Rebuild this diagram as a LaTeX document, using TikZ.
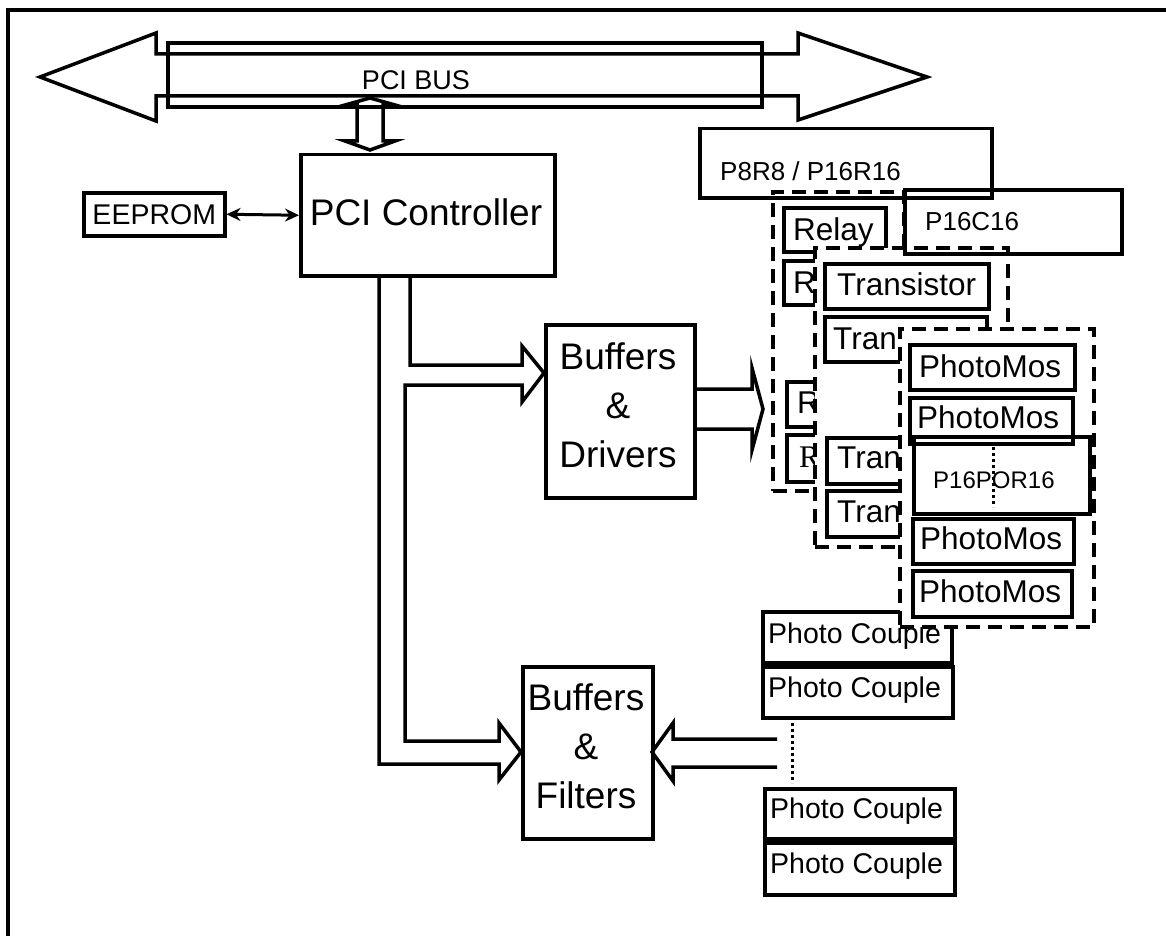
\documentclass[tikz,border=0pt]{standalone}
\usepackage{fontspec}
\setmainfont{Liberation Sans}
\newfontfamily\serifR{Liberation Serif}
\usetikzlibrary{arrows.meta}
\tikzset{
  ln/.style={line width=3.5pt, line join=miter},
  sbox/.style={draw, line width=3.5pt, fill=white, anchor=north west, inner sep=0pt},
  obox/.style={draw, line width=3.5pt, anchor=north west, inner sep=0pt},
  dbox/.style={draw, line width=3.5pt, fill=white, dash pattern=on 14pt off 8pt, anchor=north west, inner sep=0pt},
  txt/.style={inner sep=0pt, anchor=base west},
  big/.style={inner sep=0pt, font=\fontsize{37}{49}\selectfont, align=center},
  mid/.style={font=\fontsize{31.5}{36}\selectfont},
  pc/.style={font=\fontsize{28.5}{34}\selectfont},
  sm/.style={font=\fontsize{26}{30}\selectfont},
}
\begin{document}
\begin{tikzpicture}[x=1pt,y=-1pt]
\useasboundingbox (0,0) rectangle (1166,936);
% frame
\draw[line width=4pt] (8,945) -- (8,10) -- (1175,10);
% PCI bus double arrow
\draw[ln] (40,77) -- (156,33) -- (156,54) -- (798,54) -- (798,33) -- (927,77) -- (798,120) -- (798,96) -- (156,96) -- (156,121) -- cycle;
\draw[ln] (168,43) rectangle (762,107);
\node[inner sep=0pt, font=\fontsize{27}{30}\selectfont] (bus) at (416,80) {PCI BUS};
% vertical double arrow bus <-> controller
\draw[ln] (370,98) -- (395,105) -- (383,105) -- (383,141) -- (395,141) -- (370,150) -- (345,141) -- (357,141) -- (357,105) -- (345,105) -- cycle;
% controller and EEPROM
\node[sbox, minimum width=254pt, minimum height=121pt] (ctrl) at (299,153) {};
\node[big] (ctrlt) at (426,212) {PCI Controller};
\node[sbox, minimum width=141pt, minimum height=43pt, font=\fontsize{28.5}{32}\selectfont] (eeprom) at (82,191) {EEPROM};
\draw[line width=3pt, {Stealth[length=14pt,width=13pt]}-{Stealth[length=14pt,width=13pt]}] (eeprom.east) -- (ctrl.west);
% Buffers boxes
\node[sbox, minimum width=149pt, minimum height=173pt] (drv) at (544,323) {};
\node[big] (drvt) at (618,405) {Buffers\\\&\\Drivers};
\node[sbox, minimum width=130pt, minimum height=172pt] (flt) at (521,665) {};
\node[big] (fltt) at (586,746) {Buffers\\\&\\Filters};
% controller outputs (block arrows)
\draw[ln] (410,274) -- (410,365) -- (522,365) -- (522,346) -- (544,373) -- (522,402) -- (522,385) -- (405,385) -- (405,741) -- (499,741) -- (499,723) -- (521,752) -- (499,780) -- (499,764) -- (379,764) -- (379,274);
% drivers output arrow
\draw[ln] (693,389) -- (752,389) -- (752,368) -- (763,409) -- (752,450) -- (752,429) -- (693,429);
% filter input arrow
\draw[ln] (777,739) -- (673,739) -- (673,723) -- (652,752) -- (673,781) -- (673,767) -- (777,767);
\draw[line width=3pt, dash pattern=on 3pt off 3pt] (792,723) -- (792,783);
% photo couples
\node[sbox, line width=4pt, minimum width=189pt, minimum height=51pt] (pc1) at (761,610) {};
\node[txt, pc] (pc1t) at (768,643) {Photo Couple};
\node[sbox, line width=4pt, minimum width=190pt, minimum height=51pt] (pc2) at (761,665) {};
\node[txt, pc] (pc2t) at (768,697) {Photo Couple};
\node[sbox, line width=4pt, minimum width=190pt, minimum height=50pt] (pc3) at (763,787) {};
\node[txt, pc] (pc3t) at (770,818) {Photo Couple};
\node[sbox, line width=4pt, minimum width=190pt, minimum height=52pt] (pc4) at (763,841) {};
\node[txt, pc] (pc4t) at (770,873) {Photo Couple};
% relay group
\node[dbox, minimum width=131pt, minimum height=299pt] (dr) at (771,190) {};
\node[sbox, line width=4pt, minimum width=102pt, minimum height=44pt] (r1) at (782,206) {};
\node[txt, mid] (r1t) at (793,240) {Relay};
\node[sbox, line width=4pt, minimum width=102pt, minimum height=44pt] (r2) at (782,259) {};
\node[txt, mid] (r2t) at (793,293) {R};
\node[sbox, line width=4pt, minimum width=100pt, minimum height=45pt] (r3) at (785,380) {};
\node[txt, mid] (r3t) at (797,413) {R};
\node[sbox, line width=4pt, minimum width=100pt, minimum height=47pt] (r4) at (785,433) {};
\node[txt, font=\serifR\fontsize{31.5}{36}\selectfont] (r4t) at (799,467) {R};
% transistor group
\node[dbox, minimum width=193pt, minimum height=299pt] (dt) at (813,246) {};
\node[sbox, line width=4pt, minimum width=164pt, minimum height=45pt] (t1) at (823,262) {};
\node[txt, mid] (t1t) at (837,295) {Transistor};
\node[sbox, line width=4pt, minimum width=162pt, minimum height=45pt] (t2) at (823,315) {};
\node[txt, mid] (t2t) at (833,349) {Tran};
\node[sbox, line width=4pt, minimum width=162pt, minimum height=46pt] (t3) at (825,436) {};
\node[txt, mid] (t3t) at (837,468) {Tran};
\node[sbox, line width=4pt, minimum width=162pt, minimum height=46pt] (t4) at (825,489) {};
\node[txt, mid] (t4t) at (837,522) {Tran};
% photomos group
\node[dbox, minimum width=194pt, minimum height=298pt] (dp) at (898,327) {};
\node[sbox, line width=4pt, minimum width=165pt, minimum height=45pt] (m1) at (908,343) {};
\node[txt, mid] (m1t) at (919,377) {PhotoMos};
\node[sbox, line width=4pt, minimum width=163pt, minimum height=46pt] (m2) at (908,396) {};
\node[txt, mid] (m2t) at (917,428) {PhotoMos};
\node[sbox, line width=4pt, minimum width=161pt, minimum height=45pt] (m3) at (911,517) {};
\node[txt, mid] (m3t) at (920,549) {PhotoMos};
\node[sbox, line width=4pt, minimum width=159pt, minimum height=46pt] (m4) at (911,569) {};
\node[txt, mid] (m4t) at (919,602) {PhotoMos};
% P16POR16 label
\node[obox, minimum width=176pt, minimum height=77pt] (por) at (912,435) {};
\node[txt, font=\fontsize{24}{28}\selectfont] (port) at (933,488) {P16POR16};
\draw[line width=3pt, dash pattern=on 3pt off 3pt] (993,447) -- (993,507);
% P8R8 and P16C16 labels
\node[obox, minimum width=292pt, minimum height=69pt] (p8) at (698,127) {};
\node[txt, sm] (p8t) at (720,181) {P8R8 / P16R16};
\node[obox, minimum width=217pt, minimum height=64pt] (p16c) at (903,188) {};
\node[txt, sm] (p16ct) at (925,230) {P16C16};
\end{tikzpicture}
\end{document}
